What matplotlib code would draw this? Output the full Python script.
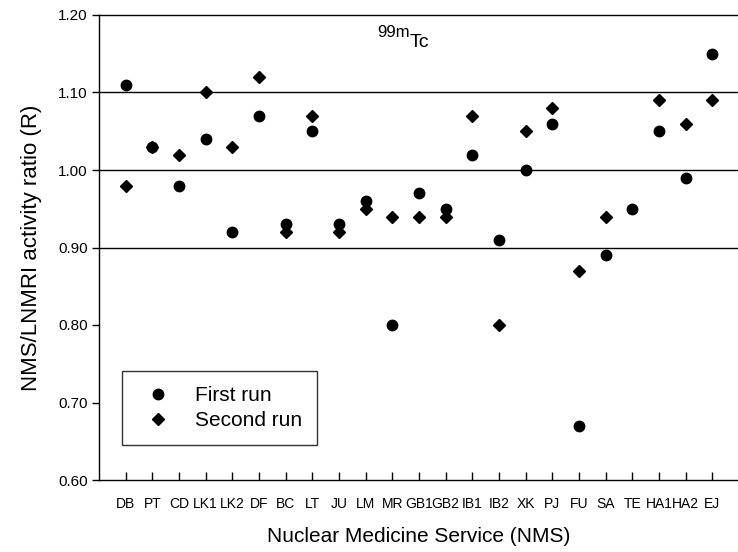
import numpy as np
import matplotlib
matplotlib.use('Agg')
import matplotlib.pyplot as plt

plt.rcParams['font.family'] = ['Liberation Sans', 'DejaVu Sans']

# NMS codes on the x axis
services = ['DB', 'PT', 'CD', 'LK1', 'LK2', 'DF', 'BC', 'LT', 'JU', 'LM', 'MR', 'GB1',
            'GB2', 'IB1', 'IB2', 'XK', 'PJ', 'FU', 'SA', 'TE', 'HA1', 'HA2', 'EJ']

# activity ratio R for each run (TE has no second run)
first_run = [1.11, 1.03, 0.98, 1.04, 0.92, 1.07, 0.93, 1.05, 0.93, 0.96, 0.80, 0.97,
             0.95, 1.02, 0.91, 1.00, 1.06, 0.67, 0.89, 0.95, 1.05, 0.99, 1.15]
second_run = [0.98, 1.03, 1.02, 1.10, 1.03, 1.12, 0.92, 1.07, 0.92, 0.95, 0.94, 0.94,
              0.94, 1.07, 0.80, 1.05, 1.08, 0.87, 0.94, np.nan, 1.09, 1.06, 1.09]

y_ticks = [0.60, 0.70, 0.80, 0.90, 1.00, 1.10, 1.20]

fig = plt.figure(figsize=(7.38, 5.52), dpi=100)
ax = fig.add_axes([99 / 738, 72 / 552, 640 / 738, 465 / 552])

x = np.arange(1, len(services) + 1)

# grid lines only at 0.90 - 1.10
for g in [0.90, 1.00, 1.10]:
    ax.axhline(g, color='black', lw=1.0, zorder=1)

ax.plot(x, first_run, 'o', color='black', markersize=7.5, ls='none', label='First run', zorder=3)
ax.plot(x, second_run, 'D', color='black', markersize=6.3, ls='none', label='Second run', zorder=3)

ax.set_xlim(0, 24)
ax.set_ylim(0.60, 1.20)
ax.set_yticks(y_ticks)
ax.set_yticklabels([f'{v:.2f}' for v in y_ticks], fontsize=11)
ax.set_xticks(x)
ax.set_xticklabels(services, fontsize=10)

ax.tick_params(axis='y', direction='out', length=5, width=1, pad=3)
ax.tick_params(axis='x', direction='in', length=6, width=1, pad=12)

ax.spines['right'].set_visible(False)
for s in ['left', 'top', 'bottom']:
    ax.spines[s].set_linewidth(1.0)

ax.set_xlabel('Nuclear Medicine Service (NMS)', fontsize=15, labelpad=12)
ax.set_ylabel('NMS/LNMRI activity ratio (R)', fontsize=16, labelpad=12)

# isotope label: "99m" raised, "Tc" lower
ax.text(11.66, 1.172, '99m', fontsize=12, ha='right', va='baseline')
ax.text(11.66, 1.159, 'Tc', fontsize=14, ha='left', va='baseline')

leg = ax.legend(loc='lower left', bbox_to_anchor=(0.0355, 0.075), fontsize=15,
                frameon=True, fancybox=False, edgecolor='black', borderpad=0.73,
                handletextpad=0.78, labelspacing=0.27, borderaxespad=0)
leg.get_frame().set_linewidth(1.0)

fig.savefig('out.png', dpi=100)
